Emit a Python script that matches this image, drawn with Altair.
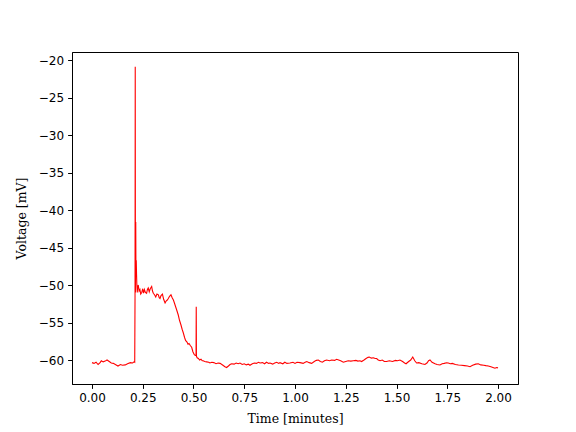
import altair as alt
import pandas as pd

# Time in minutes
t = [0.000, 0.010, 0.020, 0.030, 0.040, 0.046, 0.055, 0.065, 0.074, 0.085, 0.095, 0.105, 0.115, 0.128,
     0.140, 0.150, 0.164, 0.175, 0.189, 0.200, 0.207,
     0.2105, 0.2120, 0.2130, 0.2140, 0.2155, 0.2165, 0.2180, 0.2195, 0.2210, 0.2230, 0.2250,
     0.228, 0.232, 0.236, 0.240, 0.245, 0.250, 0.254, 0.258, 0.263, 0.269, 0.273, 0.277, 0.282, 0.287,
     0.294, 0.298, 0.302, 0.308, 0.314, 0.320, 0.327, 0.331, 0.335, 0.340, 0.347, 0.353, 0.360, 0.366,
     0.371, 0.376, 0.382, 0.389, 0.395, 0.401, 0.406, 0.412, 0.418, 0.425, 0.431, 0.438, 0.444, 0.450,
     0.456, 0.461, 0.468, 0.473, 0.478, 0.485, 0.491, 0.497, 0.504, 0.509,
     0.5125, 0.5135, 0.5145,
     0.518, 0.524, 0.530, 0.537, 0.543, 0.548, 0.555, 0.565, 0.575, 0.581, 0.590, 0.600, 0.611, 0.621,
     0.631, 0.645, 0.655, 0.663, 0.672, 0.680, 0.688, 0.700, 0.710, 0.720, 0.729, 0.740, 0.750, 0.760,
     0.770, 0.778, 0.790, 0.800, 0.810, 0.820, 0.828, 0.840, 0.850, 0.860, 0.870, 0.877, 0.890, 0.900,
     0.910, 0.920, 0.926, 0.940, 0.950, 0.960, 0.975, 0.990, 1.000, 1.010, 1.025, 1.040, 1.050, 1.058,
     1.070, 1.082, 1.095, 1.105, 1.115, 1.125, 1.135, 1.145, 1.156, 1.170, 1.180, 1.195, 1.205, 1.215,
     1.225, 1.238, 1.250, 1.262, 1.275, 1.287, 1.300, 1.310, 1.320, 1.328, 1.340, 1.350, 1.360, 1.366,
     1.376, 1.386, 1.395, 1.402, 1.410, 1.419, 1.430, 1.440, 1.451, 1.465, 1.480, 1.495, 1.505, 1.517,
     1.530, 1.540, 1.547, 1.560, 1.570, 1.580, 1.590, 1.599, 1.610, 1.625, 1.640, 1.650, 1.658, 1.665,
     1.675, 1.690, 1.700, 1.714, 1.725, 1.735, 1.747, 1.755, 1.765, 1.775, 1.790, 1.805, 1.820, 1.835,
     1.850, 1.862, 1.875, 1.890, 1.903, 1.915, 1.930, 1.940, 1.952, 1.965, 1.975, 1.985, 1.993, 2.000]

# Voltage in mV
v = [-60.35, -60.45, -60.3, -60.6, -60.35, -60.1, -60.25, -60.15, -60.0, -60.2, -60.4, -60.45, -60.6, -60.8,
     -60.6, -60.7, -60.65, -60.5, -60.35, -60.4, -60.25,
     -60.3, -51.5, -20.9, -51.0, -41.6, -48.5, -46.7, -48.6, -50.0, -51.0, -50.3,
     -50.0, -50.8, -50.6, -51.2, -51.0, -50.5, -51.1, -50.6, -51.0, -51.1, -50.6, -50.4, -50.9, -50.5,
     -50.2, -50.8, -51.1, -51.3, -51.6, -51.2, -51.3, -51.7, -51.8, -51.4, -51.2, -51.9, -52.4, -52.1,
     -52.0, -51.8, -51.5, -51.3, -51.7, -52.0, -52.4, -52.9, -53.4, -54.0, -54.7, -55.3, -55.9, -56.4,
     -57.0, -57.4, -57.6, -57.9, -57.8, -58.1, -58.3, -58.9, -59.3, -59.4,
     -59.4, -52.9, -59.5,
     -59.7, -59.8, -60.0, -59.9, -60.1, -60.1, -60.2, -60.25, -60.3, -60.4, -60.3, -60.35, -60.5, -60.4,
     -60.45, -60.7, -60.9, -61.0, -60.8, -60.6, -60.5, -60.55, -60.4, -60.5, -60.4, -60.6, -60.5, -60.65,
     -60.55, -60.7, -60.5, -60.4, -60.45, -60.3, -60.4, -60.35, -60.5, -60.3, -60.45, -60.4, -60.55, -60.4,
     -60.3, -60.45, -60.35, -60.5, -60.3, -60.45, -60.4, -60.3, -60.45, -60.3, -60.35, -60.45, -60.3, -60.2,
     -60.35, -60.45, -60.2, -60.05, -60.0, -60.2, -60.3, -60.1, -60.0, -60.1, -60.0, -60.05, -59.9, -60.0,
     -60.1, -60.3, -60.2, -60.1, -60.15, -60.1, -60.05, -60.15, -60.1, -60.2, -60.0, -59.8, -59.65, -59.6,
     -59.75, -59.7, -59.8, -59.8, -60.0, -60.1, -60.0, -60.2, -60.2, -60.1, -60.2, -60.05, -60.1, -60.0,
     -60.2, -60.4, -60.5, -60.2, -60.0, -59.6, -60.1, -60.4, -60.35, -60.5, -60.6, -60.4, -60.1, -60.0,
     -60.3, -60.5, -60.6, -60.67, -60.5, -60.45, -60.36, -60.4, -60.5, -60.45, -60.6, -60.67, -60.7, -60.75,
     -60.8, -60.9, -60.7, -60.55, -60.5, -60.65, -60.7, -60.75, -60.8, -60.9, -61.0, -61.1, -61.0, -61.05]

x_ticks = [0.0, 0.25, 0.5, 0.75, 1.0, 1.25, 1.5, 1.75, 2.0]
y_ticks = [-60, -55, -50, -45, -40, -35, -30, -25, -20]

df = pd.DataFrame({"t": t, "v": v, "i": list(range(len(t)))})

chart = alt.Chart(df).mark_line(color="red", strokeWidth=1.1, clip=True).encode(
    x=alt.X("t:Q", scale=alt.Scale(domain=[-0.0985, 2.0985], nice=False, zero=False),
            axis=alt.Axis(values=x_ticks, format=".2f", title="Time [minutes]",
                          titleX=223, titleY=34, titleBaseline="middle", titleAlign="center")),
    y=alt.Y("v:Q", scale=alt.Scale(domain=[-63.2, -18.93], nice=False, zero=False),
            axis=alt.Axis(values=y_ticks, format="d", title="Voltage [mV]",
                          titleX=-51, titleY=166, titleAngle=-90, titleBaseline="middle",
                          titleAlign="center")),
    order="i:Q",
).properties(
    width=446, height=332,
    autosize="none",
    padding={"left": 64, "top": 44, "right": 50, "bottom": 48},
).configure_view(
    stroke="black", strokeWidth=1
).configure_axis(
    grid=False,
    domainColor="black", domainWidth=1,
    tickColor="black", tickWidth=1, tickSize=4.4,
    labelFont="DejaVu Sans", labelFontSize=12, labelColor="black", labelPadding=4,
    titleFont="DejaVu Serif", titleFontSize=12.5, titleFontWeight="normal", titleColor="black",
)

chart.save("out.html", embed_options={"renderer": "svg", "actions": False})
